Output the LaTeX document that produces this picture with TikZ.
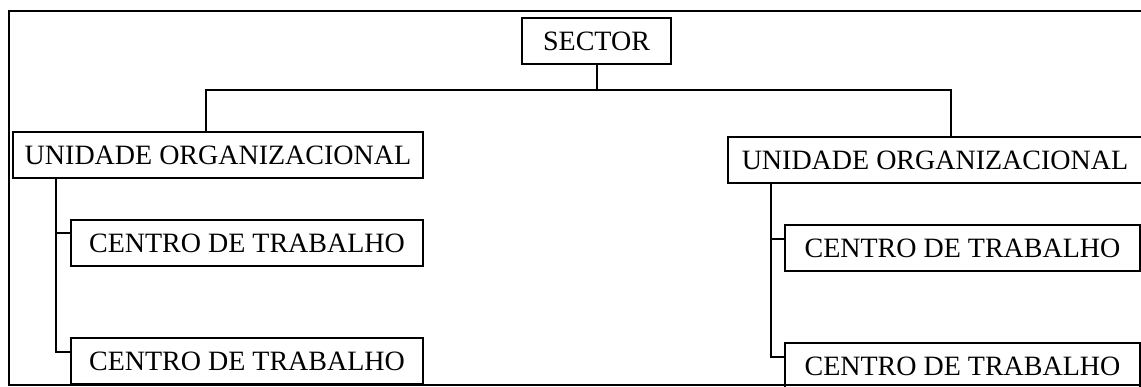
\documentclass[tikz,border=0pt]{standalone}
\usepackage{fontspec}
\setmainfont{Liberation Serif}
\usetikzlibrary{positioning}

\tikzset{
  unit/.style={draw, rectangle, line width=2pt, inner sep=0pt,
    font=\fontsize{28}{30}\selectfont, minimum height=46pt},
  link/.style={line width=2pt}
}

\begin{document}
\begin{tikzpicture}[x=1pt, y=-1pt]
        \useasboundingbox (0, 0) rectangle (1141, 387);
        \draw[link] (8.5, 11) rectangle (1150, 385);

        \node[unit, minimum width=149pt] (sector) at (596.5, 41.5) {SECTOR};
        \node[unit, minimum width=410pt] (uoL) at (218, 155.5) {UNIDADE ORGANIZACIONAL};
        \node[unit, minimum width=415pt] (uoR) at (935, 160) {UNIDADE ORGANIZACIONAL};
        \node[unit, minimum width=352pt] (ctL1) at (247, 243.5) {CENTRO DE TRABALHO};
        \node[unit, minimum width=352pt] (ctL2) at (247, 361) {CENTRO DE TRABALHO};
        \node[unit, minimum width=355pt] (ctR1) at (962.5, 248) {CENTRO DE TRABALHO};
        \node[unit, minimum width=355pt] (ctR2) at (962.5, 366) {CENTRO DE TRABALHO};

        \coordinate[below=25pt of sector] (bus);
        \draw[link] (sector) -- (bus);
        \draw[link] ([xshift=-12.5pt]uoL.north) |- (bus) -| ([xshift=16pt]uoR.north);

        \draw[link] ([xshift=44pt]uoL.south west) |- ([yshift=10pt]ctL1.west);
        \draw[link] ([xshift=44pt]uoL.south west) |- ([yshift=9pt]ctL2.west);
        \draw[link] ([xshift=44pt]uoR.south west) |- ([yshift=9pt]ctR1.west);
        \draw[link] ([xshift=44pt]uoR.south west) |- ([yshift=9pt]ctR2.west);
    \end{tikzpicture}
\end{document}
